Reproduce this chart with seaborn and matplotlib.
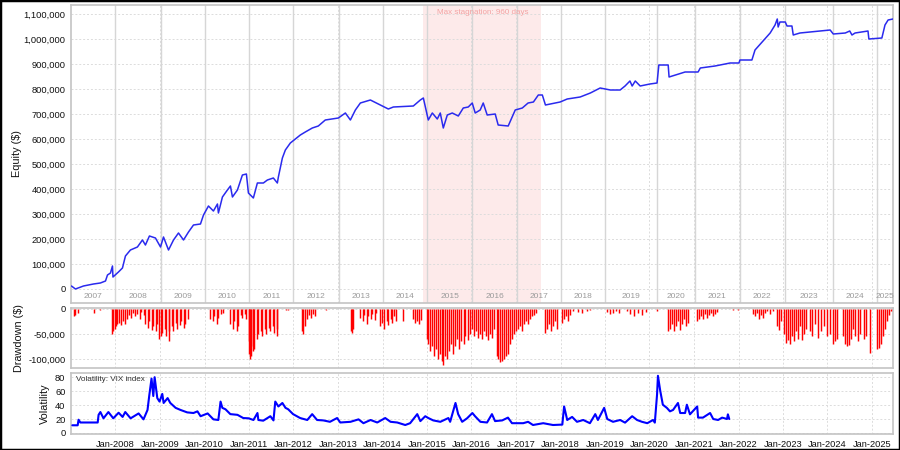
import numpy as np
import pandas as pd
import matplotlib
matplotlib.use("Agg")
import matplotlib.pyplot as plt
import matplotlib.dates as mdates
from matplotlib.ticker import FuncFormatter, FixedLocator
from matplotlib.patches import Rectangle
import seaborn as sns

# ---------------- data (dates as decimal years) ----------------
eq_time = [2007.01, 2007.10, 2007.28, 2007.505, 2007.66, 2007.775, 2007.82, 2007.887, 2007.932, 2007.943,
           2008.067, 2008.157, 2008.224, 2008.336, 2008.493, 2008.606, 2008.673, 2008.763, 2008.898, 2009.010,
           2009.077, 2009.190, 2009.302, 2009.414, 2009.527, 2009.639, 2009.751, 2009.908, 2009.976, 2010.088,
           2010.200, 2010.290, 2010.312, 2010.402, 2010.514, 2010.582, 2010.627, 2010.739, 2010.851, 2010.941,
           2010.986, 2011.098, 2011.188, 2011.323, 2011.413, 2011.547, 2011.637, 2011.660, 2011.750, 2011.817,
           2011.929, 2012.154, 2012.266, 2012.423, 2012.558, 2012.715, 2013.007, 2013.164, 2013.277, 2013.389,
           2013.501, 2013.726, 2013.906, 2014.130, 2014.243, 2014.692, 2014.849, 2014.917, 2014.962, 2015.029,
           2015.119, 2015.231, 2015.298, 2015.366, 2015.456, 2015.568, 2015.703, 2015.815, 2015.927, 2016.017,
           2016.084, 2016.196, 2016.264, 2016.353, 2016.533, 2016.600, 2016.825, 2016.915, 2016.983, 2017.14,
           2017.27, 2017.39, 2017.50, 2017.59, 2017.66, 2017.99, 2018.15, 2018.44, 2018.67, 2018.89,
           2019.12, 2019.34, 2019.45, 2019.56, 2019.61, 2019.68, 2019.79, 2020.01, 2020.17, 2020.21,
           2020.42, 2020.44, 2020.80, 2021.09, 2021.14, 2021.47, 2021.81, 2022.01, 2022.03, 2022.30,
           2022.37, 2022.53, 2022.71, 2022.82, 2022.87, 2022.89, 2022.93, 2023.05, 2023.09, 2023.20,
           2023.23, 2023.38, 2023.61, 2023.83, 2024.06, 2024.13, 2024.40, 2024.50, 2024.55, 2024.62,
           2024.91, 2024.93, 2025.22, 2025.29, 2025.36, 2025.47]
eq_value = [12000, 0, 12000, 20000, 24000, 32000, 56000, 64000, 92000, 48000,
            68000, 84000, 132000, 156000, 168000, 196000, 176000, 212000, 204000, 168000,
            208000, 156000, 196000, 224000, 196000, 228000, 256000, 260000, 296000, 332000,
            312000, 340000, 304000, 368000, 396000, 412000, 368000, 396000, 456000, 460000,
            384000, 364000, 424000, 424000, 436000, 444000, 424000, 448000, 524000, 556000,
            584000, 616000, 628000, 644000, 652000, 676000, 684000, 704000, 676000, 716000,
            744000, 756000, 740000, 720000, 728000, 732000, 756000, 764000, 728000, 676000,
            704000, 680000, 704000, 644000, 696000, 704000, 692000, 724000, 728000, 744000,
            704000, 716000, 744000, 696000, 700000, 656000, 652000, 688000, 716000, 724000,
            744000, 748000, 776000, 776000, 736000, 748000, 760000, 768000, 784000, 804000,
            796000, 796000, 812000, 832000, 812000, 832000, 812000, 820000, 824000, 896000,
            896000, 848000, 868000, 868000, 884000, 892000, 904000, 904000, 916000, 916000,
            956000, 988000, 1024000, 1056000, 1080000, 1048000, 1068000, 1068000, 1052000, 1052000,
            1016000, 1024000, 1028000, 1032000, 1036000, 1020000, 1024000, 1032000, 1016000, 1024000,
            1032000, 1000000, 1004000, 1056000, 1076000, 1080000]

dd_time = [2007.06, 2007.10, 2007.15, 2007.51, 2007.66, 2007.93, 2007.95, 2007.98,
           2008.02, 2008.04, 2008.09, 2008.13, 2008.18, 2008.22, 2008.27, 2008.31, 2008.36, 2008.40,
           2008.45, 2008.49, 2008.54, 2008.58, 2008.63, 2008.67, 2008.72, 2008.76, 2008.81, 2008.85,
           2008.90, 2008.94, 2008.97, 2009.01, 2009.05, 2009.10, 2009.14, 2009.19, 2009.21, 2009.26,
           2009.30, 2009.35, 2009.39, 2009.44, 2009.48, 2009.53, 2009.57, 2009.62,
           2010.13, 2010.18, 2010.22, 2010.27, 2010.31, 2010.36, 2010.42, 2010.58, 2010.63, 2010.67,
           2010.72, 2010.76, 2010.81, 2010.85, 2010.90, 2010.94, 2010.99,
           2011.01, 2011.03, 2011.05, 2011.08, 2011.10, 2011.12, 2011.17, 2011.21, 2011.26, 2011.30,
           2011.35, 2011.39, 2011.44, 2011.48, 2011.53, 2011.57, 2011.62, 2011.64, 2011.84, 2011.88,
           2012.20, 2012.22, 2012.26, 2012.31, 2012.35, 2012.40, 2012.44, 2012.49, 2012.74,
           2013.28, 2013.32, 2013.34, 2013.50, 2013.55, 2013.59, 2013.64, 2013.68, 2013.73, 2013.77,
           2013.82, 2013.86, 2013.95, 2013.99,
           2014.04, 2014.09, 2014.13, 2014.18, 2014.22, 2014.26, 2014.31, 2014.47, 2014.69, 2014.74,
           2014.78, 2014.83, 2014.87,
           2015.01, 2015.03, 2015.07, 2015.12, 2015.16, 2015.21, 2015.25, 2015.30, 2015.34, 2015.37,
           2015.41, 2015.46, 2015.50, 2015.55, 2015.59, 2015.64, 2015.68, 2015.73, 2015.77, 2015.82,
           2015.86, 2015.91, 2015.97,
           2016.02, 2016.06, 2016.11, 2016.15, 2016.20, 2016.24, 2016.29, 2016.33, 2016.38, 2016.42,
           2016.46, 2016.51, 2016.58, 2016.60, 2016.65, 2016.69, 2016.73, 2016.78, 2016.82, 2016.87,
           2016.91, 2016.96, 2017.00,
           2017.05, 2017.09, 2017.14, 2017.18, 2017.23, 2017.27, 2017.32, 2017.36, 2017.41, 2017.45,
           2017.66, 2017.70, 2017.75, 2017.79, 2017.84, 2017.88, 2017.93,
           2018.04, 2018.08, 2018.13, 2018.17, 2018.22, 2018.29, 2018.40, 2018.49, 2018.60, 2018.67,
           2019.05, 2019.11, 2019.18, 2019.25, 2019.32, 2019.50, 2019.56, 2019.65, 2019.74, 2019.83,
           2019.92,
           2020.17, 2020.42, 2020.46, 2020.51, 2020.55, 2020.60, 2020.64, 2020.69, 2020.73, 2020.78,
           2020.82, 2020.87,
           2021.07, 2021.11, 2021.16, 2021.20, 2021.25, 2021.29, 2021.34, 2021.38, 2021.43, 2021.47,
           2021.52, 2021.88, 2021.99,
           2022.33, 2022.37, 2022.42, 2022.46, 2022.51, 2022.55, 2022.60, 2022.64, 2022.71, 2022.77,
           2022.86, 2022.91, 2022.95,
           2023.02, 2023.07, 2023.11, 2023.16, 2023.20, 2023.25, 2023.29, 2023.34, 2023.38, 2023.43,
           2023.47, 2023.52, 2023.61, 2023.65, 2023.72, 2023.79, 2023.85, 2023.92, 2023.99,
           2024.06, 2024.12, 2024.17, 2024.21, 2024.35, 2024.39, 2024.44, 2024.48, 2024.53, 2024.57,
           2024.62, 2024.68, 2024.73, 2024.82, 2024.86, 2024.95,
           2025.11, 2025.16, 2025.20, 2025.25, 2025.29, 2025.34, 2025.38, 2025.43]
dd_value = [-15000, -12000, -8000, -9000, -3000, -50000, -45000, -40000,
            -35000, -30000, -28000, -33000, -25000, -30000, -20000, -12000, -18000, -8000,
            -15000, -10000, -20000, -6000, -12000, -30000, -38000, -25000, -42000, -35000,
            -45000, -30000, -60000, -55000, -48000, -40000, -55000, -45000, -64000, -35000,
            -45000, -28000, -40000, -32000, -25000, -38000, -30000, -20000,
            -20000, -25000, -15000, -30000, -18000, -10000, -8000, -30000, -40000, -25000,
            -45000, -35000, -12000, -18000, -10000, -20000, -65000,
            -90000, -100000, -95000, -85000, -75000, -80000, -60000, -50000, -45000, -55000,
            -40000, -50000, -38000, -45000, -35000, -48000, -40000, -55000, -3000, -2000,
            -45000, -50000, -35000, -20000, -12000, -18000, -10000, -15000, -3000,
            -45000, -48000, -40000, -18000, -25000, -12000, -30000, -15000, -20000, -10000,
            -22000, -8000, -35000, -28000,
            -40000, -25000, -32000, -20000, -28000, -15000, -25000, -25000, -20000, -28000,
            -25000, -30000, -22000,
            -60000, -70000, -85000, -75000, -95000, -80000, -100000, -90000, -105000, -112000,
            -95000, -100000, -85000, -70000, -90000, -75000, -60000, -80000, -65000, -70000,
            -55000, -62000, -50000,
            -40000, -55000, -45000, -58000, -50000, -60000, -45000, -55000, -62000, -50000,
            -58000, -40000, -95000, -100000, -107000, -104000, -100000, -95000, -90000, -70000,
            -60000, -50000, -45000,
            -40000, -35000, -45000, -30000, -25000, -30000, -20000, -15000, -12000, -8000,
            -48000, -40000, -30000, -45000, -35000, -25000, -40000,
            -29000, -20000, -15000, -25000, -12000, -5000, -6000, -8000, -4000, -3000,
            -6000, -10000, -8000, -5000, -8000, -5000, -10000, -15000, -8000, -12000,
            -6000,
            -5000, -45000, -40000, -30000, -45000, -35000, -25000, -42000, -30000, -20000,
            -35000, -28000,
            -25000, -20000, -15000, -20000, -10000, -18000, -12000, -8000, -15000, -10000,
            -6000, -3000, -3000,
            -10000, -15000, -8000, -20000, -12000, -18000, -8000, -5000, -10000, -5000,
            -35000, -42000, -25000,
            -50000, -68000, -62000, -70000, -55000, -65000, -45000, -60000, -35000, -62000,
            -50000, -40000, -45000, -55000, -30000, -58000, -45000, -35000, -55000,
            -50000, -70000, -65000, -60000, -55000, -70000, -75000, -72000, -60000, -40000,
            -55000, -65000, -50000, -60000, -55000, -89000,
            -80000, -78000, -70000, -55000, -40000, -25000, -12000, -5000]

vix_time = [2007.03, 2007.15, 2007.17, 2007.21, 2007.60, 2007.62, 2007.66, 2007.73, 2007.84, 2007.95,
            2008.07, 2008.16, 2008.22, 2008.34, 2008.52, 2008.63, 2008.72, 2008.76, 2008.81, 2008.85,
            2008.88, 2008.94, 2008.99, 2009.05, 2009.08, 2009.17, 2009.23, 2009.35, 2009.46, 2009.61,
            2009.75, 2009.84, 2009.91, 2010.07, 2010.20, 2010.31, 2010.36, 2010.40, 2010.47, 2010.58,
            2010.74, 2010.87, 2010.99, 2011.10, 2011.19, 2011.21, 2011.32, 2011.48, 2011.55, 2011.59,
            2011.66, 2011.75, 2011.82, 2011.88, 2011.99, 2012.15, 2012.31, 2012.42, 2012.53, 2012.67,
            2012.82, 2012.98, 2013.05, 2013.28, 2013.46, 2013.57, 2013.73, 2013.88, 2014.06, 2014.18,
            2014.33, 2014.51, 2014.62, 2014.78, 2014.85, 2014.96, 2015.03, 2015.14, 2015.30, 2015.48,
            2015.52, 2015.64, 2015.70, 2015.79, 2015.90, 2016.02, 2016.08, 2016.20, 2016.35, 2016.46,
            2016.53, 2016.69, 2016.82, 2016.91, 2017.16, 2017.27, 2017.38, 2017.61, 2017.83, 2018.04,
            2018.08, 2018.15, 2018.26, 2018.37, 2018.51, 2018.66, 2018.78, 2018.84, 2018.98, 2019.05,
            2019.18, 2019.34, 2019.45, 2019.61, 2019.72, 2019.83, 2019.95, 2020.08, 2020.12, 2020.17,
            2020.19, 2020.24, 2020.30, 2020.39, 2020.46, 2020.53, 2020.64, 2020.69, 2020.80, 2020.84,
            2020.91, 2021.07, 2021.09, 2021.20, 2021.36, 2021.43, 2021.54, 2021.63, 2021.74, 2021.76,
            2021.79]
vix_value = [11, 11, 19, 15, 15, 26, 30, 21, 30, 21,
             29, 23, 30, 21, 28, 19.5, 33, 54, 78, 53,
             80, 50, 45, 56, 43, 50, 43, 36, 33, 29.5,
             28.6, 31, 24, 28, 19.5, 18.6, 45, 36, 34, 27,
             26, 21.4, 21, 18.6, 28.6, 18.6, 17.6, 24, 18, 45,
             38, 43, 36, 34, 27, 21.4, 18.6, 27, 18.6, 18,
             16, 21.4, 15, 16, 19.5, 14, 18.6, 15, 21.4, 16,
             15, 11.4, 14, 27, 17, 24, 21.4, 18, 16, 21.4,
             16, 43, 27, 16, 21, 28.6, 24, 16, 15, 27,
             17, 18, 22, 14, 14, 16, 11.4, 14, 11.4, 12,
             38, 18.6, 23, 16, 18.6, 14, 27, 18.6, 36, 20,
             16, 18.6, 14.8, 24, 18.6, 16, 14, 18.6, 14.8, 55,
             82, 61, 40.5, 36, 31, 33, 43, 28.6, 28.6, 40.5,
             26.7, 38, 22, 22, 28.6, 20, 18.6, 22, 20, 26.7,
             20]

year_sep = [2008.00, 2009.01, 2010.02, 2011.01, 2012.00, 2013.03, 2014.02, 2015.01, 2016.02,
            2017.03, 2018.02, 2019.00, 2020.17, 2021.02, 2022.03, 2023.04, 2024.12, 2025.11]
year_labels = [str(y) for y in range(2007, 2026)]
x_range = [2007.0, 2025.47]
stagnation = [2014.92, 2017.55]
stagnation_text = "Max stagnation: 960 days"
vix_title = "Volatility: VIX index"


def to_dt(y):
    yr = int(np.floor(y))
    return pd.Timestamp(yr, 1, 1) + pd.Timedelta(days=(y - yr) * 365.25)


eq_df = pd.DataFrame({"date": [to_dt(t) for t in eq_time], "equity": eq_value})
dd_df = pd.DataFrame({"date": [to_dt(t) for t in dd_time], "dd": dd_value})
vix_df = pd.DataFrame({"date": [to_dt(t) for t in vix_time], "vix": vix_value})

# ---------------- style ----------------
sns.set_style("white")
plt.rcParams["font.family"] = ["Liberation Sans", "DejaVu Sans"]

fig = plt.figure(figsize=(9, 4.5), dpi=100)
W, H = 900.0, 450.0
L, R = 71 / W, 893 / W


def axrect(top, bottom):
    return [L, 1 - bottom / H, R - L, (bottom - top) / H]


ax1 = fig.add_axes(axrect(5, 303))
ax2 = fig.add_axes(axrect(308, 368), sharex=ax1)
ax3 = fig.add_axes(axrect(373, 434), sharex=ax1)

spine_col = "#c4c4c4"
grid_col = "#dcdcdc"
tick_col = "#111111"
jan_ticks = [pd.Timestamp(y, 1, 1) for y in range(2008, 2026)]

for ax in (ax1, ax2, ax3):
    for s in ax.spines.values():
        s.set_color(spine_col)
        s.set_linewidth(1.2)
    ax.tick_params(axis="y", labelsize=6.7, labelcolor=tick_col, length=2, width=0.6, pad=2,
                   color="#888888")
    ax.set_facecolor("white")
    for t in jan_ticks:
        ax.axvline(t, color=grid_col, lw=0.7, ls=(0, (2, 2)), zorder=0.6)

# ---- equity panel ----
x0, x1 = to_dt(x_range[0]), to_dt(x_range[1])
ax1.axvspan(to_dt(stagnation[0]), to_dt(stagnation[1]), color="#fdeaea", zorder=0.2, lw=0)
for s in year_sep:
    ax1.axvline(to_dt(s), color="#d6d6d6", lw=1.0, zorder=0.7)
bounds = [x_range[0]] + year_sep + [x_range[1]]
for i, lab in enumerate(year_labels):
    mid = (bounds[i] + bounds[i + 1]) / 2
    ax1.text(to_dt(mid), -32000, lab, ha="center", va="center", fontsize=6.0, color="#9a9a9a")
eq_ticks = list(range(0, 1100001, 100000))
ax1.yaxis.set_major_locator(FixedLocator(eq_ticks))
for v in eq_ticks:
    ax1.axhline(v, color=grid_col, lw=0.7, ls=(0, (2, 2)), zorder=0.6)
sns.lineplot(data=eq_df, x="date", y="equity", ax=ax1, color="#2a2aee", lw=1.1, zorder=3)
ax1.set_ylim(-56000, 1136000)
ax1.yaxis.set_major_formatter(FuncFormatter(lambda v, p: f"{int(v):,}"))
ax1.tick_params(axis="x", which="both", length=0, labelbottom=False)
ax1.set_xlabel("")
ax1.set_ylabel("Equity ($)", fontsize=7.8, color="#111111")
ax1.yaxis.set_label_coords(-0.060, 0.5)
ax1.text(to_dt(2015.23), 1108000, stagnation_text, fontsize=5.8, color="#f3a3a3",
         ha="left", va="center", zorder=4)

# ---- drawdown panel ----
dd_ticks = [0, -50000, -100000]
for v in dd_ticks:
    ax2.axhline(v, color=grid_col, lw=0.7, ls=(0, (2, 2)), zorder=0.6)
ax2.vlines(dd_df["date"], dd_df["dd"], 0, colors="#ff0000", lw=1.05, zorder=3)
ax2.set_ylim(-118000, 1500)
ax2.yaxis.set_major_locator(FixedLocator(dd_ticks))
ax2.yaxis.set_major_formatter(FuncFormatter(lambda v, p: f"{int(v):,}"))
ax2.tick_params(axis="x", which="both", length=0, labelbottom=False)
ax2.set_ylabel("Drawdown ($)", fontsize=7.8, color="#111111")
ax2.yaxis.set_label_coords(-0.0566, 0.5)

# ---- volatility panel ----
vix_ticks = [0, 20, 40, 60, 80]
for v in vix_ticks:
    ax3.axhline(v, color=grid_col, lw=0.7, ls=(0, (2, 2)), zorder=0.6)
sns.lineplot(data=vix_df, x="date", y="vix", ax=ax3, color="#0000ff", lw=1.5, zorder=3)
ax3.set_ylim(-1.5, 86)
ax3.yaxis.set_major_locator(FixedLocator(vix_ticks))
ax3.set_ylabel("Volatility", fontsize=7.8, color="#111111")
ax3.yaxis.set_label_coords(-0.026, 0.5)
ax3.set_xlabel("")
ax3.xaxis.set_major_locator(FixedLocator(mdates.date2num(jan_ticks)))
ax3.xaxis.set_major_formatter(mdates.DateFormatter("%b-%Y"))
ax3.tick_params(axis="x", labelsize=6.7, labelcolor=tick_col, length=2, pad=2, color="#888888")
ax3.text(0.006, 0.9, vix_title, transform=ax3.transAxes, fontsize=5.9, color="#333333",
         ha="left", va="center", zorder=4)

ax1.set_xlim(x0, x1)

fig.patches.append(Rectangle((0, 0), 1, 1, transform=fig.transFigure, fill=False,
                             edgecolor="black", lw=2.5, zorder=10))

fig.savefig("out.png", dpi=100)
